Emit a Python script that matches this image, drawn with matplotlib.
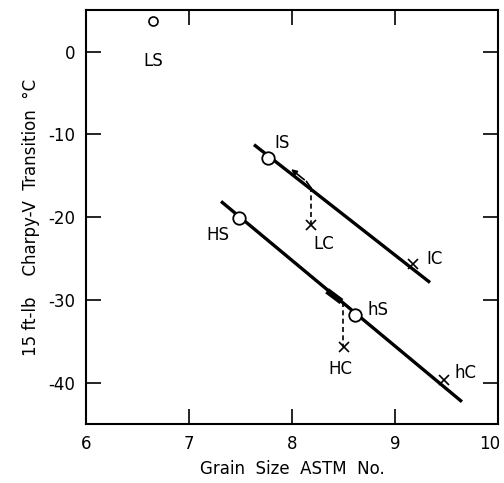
import matplotlib
matplotlib.use("Agg")
import matplotlib.pyplot as plt
import matplotlib.transforms as mtransforms

plt.rcParams['font.family'] = ['DejaVu Sans']

# Data
pt_labels = ["LS", "IS", "HS", "hS"]
pt_x = [6.65, 7.77, 7.48, 8.61]
pt_y = [3.7, -12.85, -20.1, -31.8]

cr_labels = ["LC", "IC", "HC", "hC"]
cr_x = [8.18, 9.17, 8.50, 9.48]
cr_y = [-21.0, -25.7, -35.7, -39.7]

upper_x = [7.63, 9.34]
upper_y = [-11.25, -27.9]
lower_x = [7.31, 9.65]
lower_y = [-18.1, -42.3]

dash_lc_x = [8.18, 8.18]
dash_lc_y = [-16.4, -21.0]
dash_hc_x = [8.49, 8.49]
dash_hc_y = [-30.3, -35.7]

xticks = [6, 7, 8, 9, 10]
yticks = [0, -10, -20, -30, -40]

fig = plt.figure(figsize=(5.04, 4.83), dpi=100)
ax = fig.add_axes([0.171, 0.122, 0.817, 0.857])

ax.plot(upper_x, upper_y, color='black', lw=2.4, solid_capstyle='butt')
ax.plot(lower_x, lower_y, color='black', lw=2.4, solid_capstyle='butt')

ax.plot(dash_lc_x, dash_lc_y, color='black', lw=1.2, ls=(0, (3, 2)))
ax.plot(dash_hc_x, dash_hc_y, color='black', lw=1.2, ls=(0, (3, 2)))

# shift arrows along the lines
ax.plot([8.18, 8.14], [-16.4, -15.7], color='black', lw=1.2)
ax.annotate("", xy=(7.97, -14.0), xytext=(8.14, -15.7),
            arrowprops=dict(arrowstyle='-|>', color='black', lw=1.2,
                            mutation_scale=8))
ax.plot([8.34, 8.48], [-28.9, -30.2], color='black', lw=4.5, solid_capstyle='butt')

ax.plot(pt_x[1:], pt_y[1:], 'o', ms=9, mfc='white', mec='black', mew=1.3, ls='none')
ax.plot(pt_x[:1], pt_y[:1], 'o', ms=6.5, mfc='white', mec='black', mew=1.2, ls='none')
ax.plot(cr_x, cr_y, 'x', ms=7, color='black', mew=1.2, ls='none')

fs = 12
pt_lx = [6.65, 7.90, 7.28, 8.83]
pt_ly = [-1.2, -11.1, -22.2, -31.2]
for lab, lx, ly in zip(pt_labels, pt_lx, pt_ly):
    ax.text(lx, ly, lab, fontsize=fs, ha='center', va='center')
cr_lx = [8.31, 9.38, 8.47, 9.68]
cr_ly = [-23.3, -25.1, -38.4, -38.8]
for lab, lx, ly in zip(cr_labels, cr_lx, cr_ly):
    ax.text(lx, ly, lab, fontsize=fs, ha='center', va='center')

ax.set_xlim(6, 10)
ax.set_ylim(-45, 5)
ax.set_xticks(xticks)
ax.set_yticks(yticks)
ax.set_xticklabels([str(t) for t in xticks])
ax.set_yticklabels([str(t) for t in yticks])
ax.tick_params(direction='in', length=11, width=1.2, labelsize=12,
               top=True, right=True, pad=8)
for s in ax.spines.values():
    s.set_linewidth(1.5)

# nudge the last x tick label left so it stays inside the figure
last = ax.get_xticklabels()[-1]
last.set_transform(last.get_transform() +
                   mtransforms.ScaledTranslation(-8 / 100, 0, fig.dpi_scale_trans))

ax.set_xlabel("Grain  Size  ASTM  No.", fontsize=12, labelpad=5)
ax.set_ylabel("15 ft-lb    Charpy-V  Transition  °C", fontsize=12, labelpad=6)

fig.savefig("out.png", dpi=100)
